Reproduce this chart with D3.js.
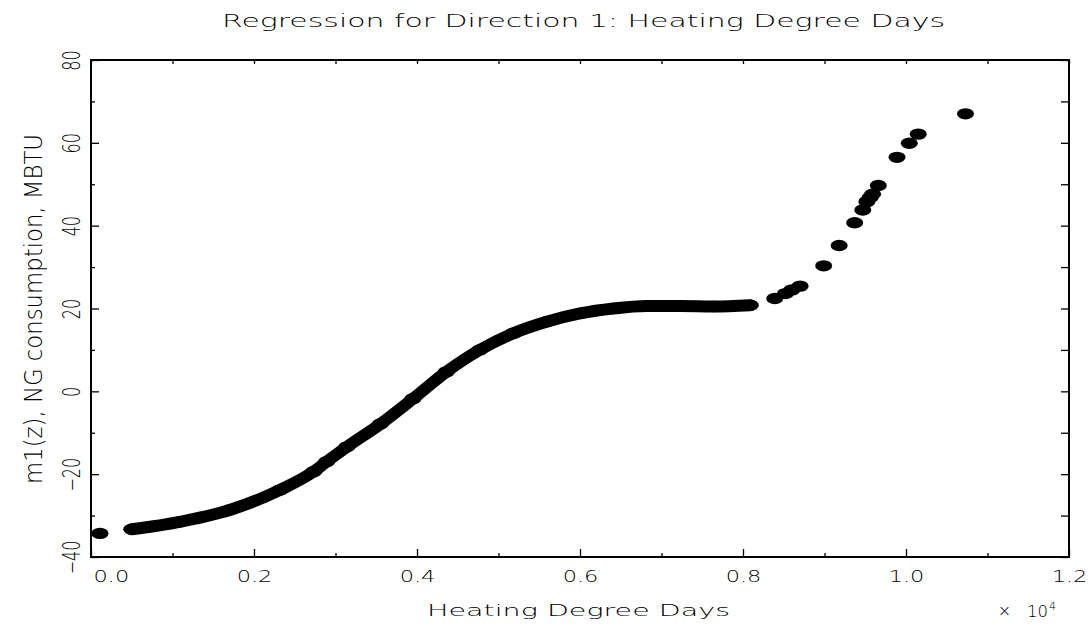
<!DOCTYPE html>
<html>
<head>
<meta charset="utf-8">
<script src="https://cdn.jsdelivr.net/npm/d3@7"></script>
<style>
  body { margin: 0; background: #fff; }
  text { font-family: "DejaVu Sans", sans-serif; font-weight: 200; fill: #000; }
</style>
</head>
<body>
<div id="my_dataviz"></div>
<script>

// dense part of the regression curve (HDD in units of 10^4, m1(z) in MBTU)
var hddCurve = [0.050, 0.109, 0.171, 0.232, 0.273, 0.289, 0.314, 0.355, 0.395, 0.436,
                0.477, 0.518, 0.559, 0.600, 0.641, 0.682, 0.723, 0.764, 0.809];
var ngCurve  = [-33.3, -31.5, -28.6, -23.8, -19.4, -17.0, -13.4, -7.9, -1.8, 4.7,
                10.0, 14.0, 16.8, 18.8, 20.0, 20.6, 20.6, 20.5, 20.8];

// isolated points
var hddPoints = [0.011, 0.839, 0.852, 0.860, 0.870, 0.899, 0.918, 0.937, 0.947,
                 0.952, 0.956, 0.959, 0.966, 0.989, 1.004, 1.015, 1.073];
var ngPoints  = [-34.3, 22.4, 23.6, 24.5, 25.4, 30.3, 35.2, 40.7, 43.8,
                 45.8, 46.8, 47.6, 49.7, 56.5, 59.9, 62.1, 67.0];

var xTicks = [0, 0.2, 0.4, 0.6, 0.8, 1.0, 1.2];
var xTickLabels = ["0.0", "0.2", "0.4", "0.6", "0.8", "1.0", "1.2"];
var xMinor = [0.1, 0.3, 0.5, 0.7, 0.9, 1.1];
var yTicks = [-40, -20, 0, 20, 40, 60, 80];
var yTickLabels = ["\u221240", "\u221220", "0", "20", "40", "60", "80"];
var yMinor = [-30, -10, 10, 30, 50, 70];

var margin = {top: 60, right: 19, bottom: 67, left: 91},
    width = 1088 - margin.left - margin.right,
    height = 624 - margin.top - margin.bottom;

var root = d3.select("#my_dataviz")
  .append("svg")
    .attr("width", 1088)
    .attr("height", 624);

var svg = root.append("g")
    .attr("transform", "translate(" + margin.left + "," + margin.top + ")");

var x = d3.scaleLinear().domain([0, 1.2]).range([0, width]);
var y = d3.scaleLinear().domain([-40, 80]).range([height, 0]);

// bottom axis, major + minor ticks pointing inward
var xAxis = svg.append("g")
    .attr("transform", "translate(0," + height + ")")
    .call(d3.axisBottom(x).tickValues(xTicks).tickSizeInner(-8).tickSizeOuter(0)
      .tickFormat(function(d, i) { return xTickLabels[i]; }));
svg.append("g")
    .attr("transform", "translate(0," + height + ")")
    .call(d3.axisBottom(x).tickValues(xMinor).tickSizeInner(-4).tickSizeOuter(0).tickFormat(""));

xAxis.selectAll("text")
    .attr("y", 25)
    .attr("dy", 0)
    .attr("font-size", 16)
    .attr("transform", "scale(1.4,1)");
xAxis.select(".tick text").attr("text-anchor", "start").attr("x", 1.5);

// left axis, labels rotated
var yAxis = svg.append("g")
    .call(d3.axisLeft(y).tickValues(yTicks).tickSizeInner(-8).tickSizeOuter(0)
      .tickFormat(function(d, i) { return yTickLabels[i]; }));
svg.append("g")
    .call(d3.axisLeft(y).tickValues(yMinor).tickSizeInner(-4).tickSizeOuter(0).tickFormat(""));

yAxis.selectAll("text")
    .attr("x", 0)
    .attr("dy", 0)
    .attr("font-size", 16)
    .attr("text-anchor", "middle")
    .attr("transform", "translate(-11,0) rotate(-90) scale(1,1.5)");

// top and right axes, no labels
svg.append("g")
    .call(d3.axisTop(x).tickValues(xTicks.concat(xMinor)).tickSizeInner(-4).tickSizeOuter(0).tickFormat(""));
svg.append("g")
    .attr("transform", "translate(" + width + ",0)")
    .call(d3.axisRight(y).tickValues(yTicks.concat(yMinor)).tickSizeInner(-8).tickSizeOuter(0).tickFormat(""));

svg.selectAll(".domain").remove();
svg.selectAll(".tick line").attr("stroke", "#000").attr("stroke-width", 1.3);

svg.append("rect")
    .attr("width", width)
    .attr("height", height)
    .attr("fill", "none")
    .attr("stroke", "#000")
    .attr("stroke-width", 2);

// the dense regression curve
var curveData = hddCurve.map(function(d, i) { return [d, ngCurve[i]]; });
svg.append("path")
    .datum(curveData)
    .attr("fill", "none")
    .attr("stroke", "#000")
    .attr("stroke-width", 12)
    .attr("stroke-linecap", "round")
    .attr("stroke-linejoin", "round")
    .attr("d", d3.line()
      .curve(d3.curveMonotoneX)
      .x(function(d) { return x(d[0]); })
      .y(function(d) { return y(d[1]); }));

var pointData = curveData.concat(hddPoints.map(function(d, i) { return [d, ngPoints[i]]; }));
svg.selectAll("ellipse")
    .data(pointData)
    .enter().append("ellipse")
      .attr("cx", function(d) { return x(d[0]); })
      .attr("cy", function(d) { return y(d[1]); })
      .attr("rx", 8.5)
      .attr("ry", 5.7)
      .attr("fill", "#000");

// titles
root.append("text")
    .attr("x", 583.5)
    .attr("y", 27)
    .attr("font-size", 18)
    .attr("text-anchor", "middle")
    .attr("textLength", 723)
    .attr("lengthAdjust", "spacingAndGlyphs")
    .text("Regression for Direction 1: Heating Degree Days");

root.append("text")
    .attr("x", 578.5)
    .attr("y", 616)
    .attr("font-size", 16)
    .attr("text-anchor", "middle")
    .attr("textLength", 303)
    .attr("lengthAdjust", "spacingAndGlyphs")
    .text("Heating Degree Days");

root.append("text")
    .attr("transform", "translate(42,309) rotate(-90) scale(1,1.5)")
    .attr("font-size", 16)
    .attr("text-anchor", "middle")
    .attr("textLength", 350)
    .attr("lengthAdjust", "spacingAndGlyphs")
    .text("m1(z),  NG consumption, MBTU");

// x10^4 multiplier
root.append("text")
    .attr("x", 1004.5)
    .attr("y", 616)
    .attr("font-size", 16)
    .attr("text-anchor", "middle")
    .text("\u00d7");
root.append("text")
    .attr("x", 1027)
    .attr("y", 617)
    .attr("font-size", 16)
    .attr("textLength", 21)
    .attr("lengthAdjust", "spacingAndGlyphs")
    .text("10");
root.append("text")
    .attr("x", 1049)
    .attr("y", 610)
    .attr("font-size", 11)
    .text("4");

</script>
</body>
</html>
